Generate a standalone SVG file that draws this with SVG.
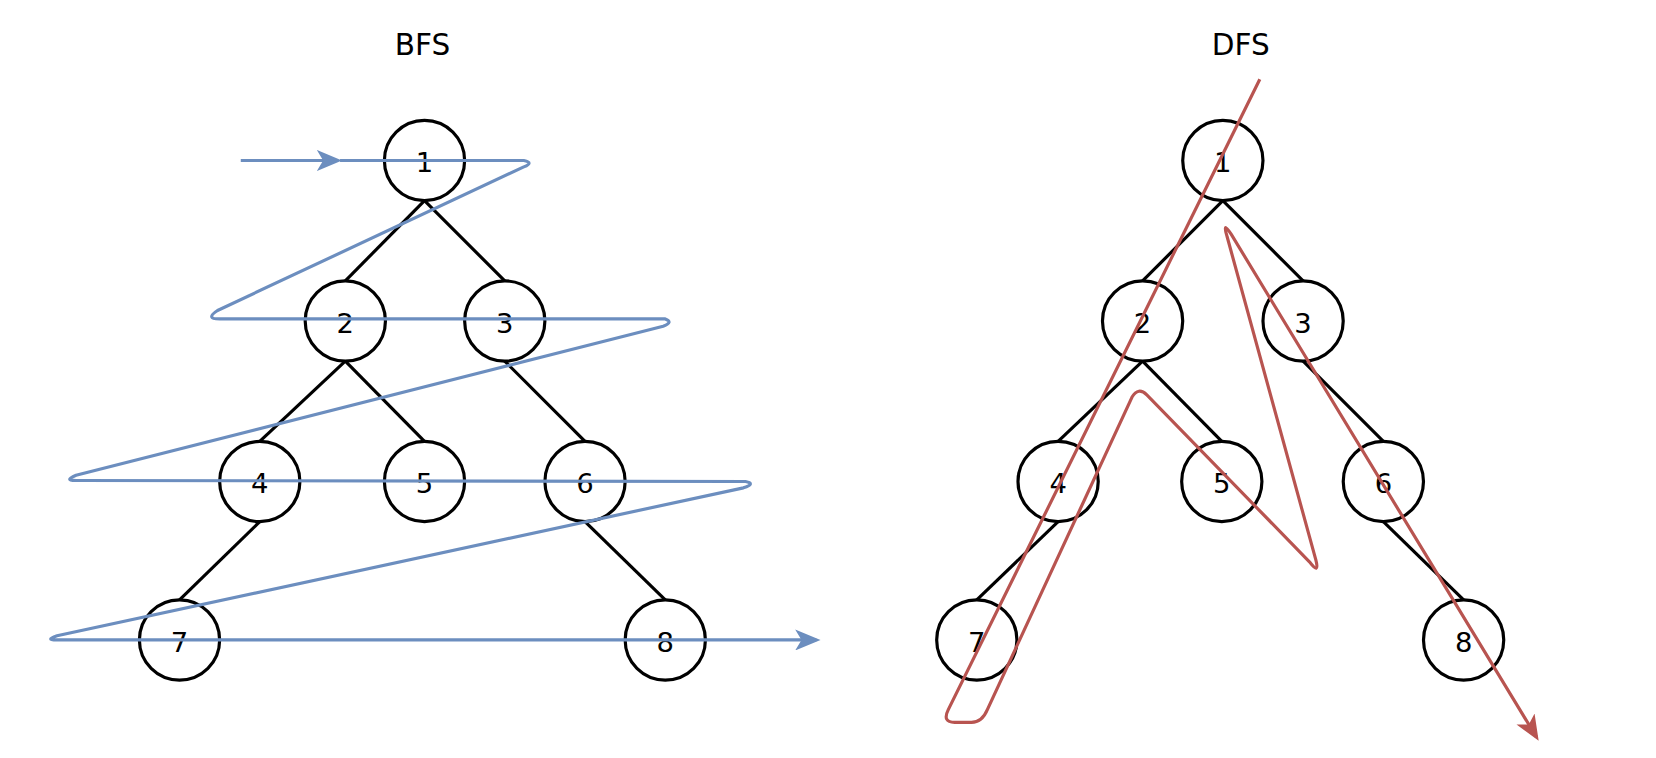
<svg xmlns="http://www.w3.org/2000/svg" width="1656" height="758" viewBox="0 0 1656 758">
<style>
.n circle{fill:#fff;stroke:#000;stroke-width:3}
.n text{font-family:"DejaVu Sans",sans-serif;font-size:26px;text-anchor:middle;dominant-baseline:central}
.e line{stroke:#000;stroke-width:3}
.t{font-family:"DejaVu Sans",sans-serif;font-size:28px;text-anchor:middle}
.b{fill:none;stroke:#6c8ebf;stroke-width:3;stroke-linejoin:round}
.r{fill:none;stroke:#b85450;stroke-width:3;stroke-linejoin:round}
</style>
<defs>
<marker id="ab" refX="20" refY="10" markerWidth="24" markerHeight="20" orient="auto" markerUnits="userSpaceOnUse"><path d="M0,0 L24,10 L0,20 L6,10z" fill="#6c8ebf"/></marker>
<marker id="ar" refX="20" refY="10" markerWidth="24" markerHeight="20" orient="auto" markerUnits="userSpaceOnUse"><path d="M0,0 L24,10 L0,20 L6,10z" fill="#b85450"/></marker>
</defs>
<rect width="1656" height="758" fill="#fff"/>
<g transform="scale(1.056)">
<text class="t" x="400" y="52">BFS</text>
<text class="t" x="1175" y="52">DFS</text>
<g class="e" id="edges">
<line x1="402" y1="190" x2="327" y2="266"/><line x1="402" y1="190" x2="478" y2="266"/>
<line x1="327" y1="342" x2="246" y2="418"/><line x1="327" y1="342" x2="402" y2="418"/>
<line x1="478" y1="342" x2="554" y2="418"/><line x1="246" y1="494" x2="170" y2="568"/>
<line x1="554" y1="494" x2="630" y2="568"/>
<line x1="1158" y1="190" x2="1082" y2="266"/><line x1="1158" y1="190" x2="1234" y2="266"/>
<line x1="1082" y1="342" x2="1002" y2="418"/><line x1="1082" y1="342" x2="1157" y2="418"/>
<line x1="1234" y1="342" x2="1310" y2="418"/><line x1="1002" y1="494" x2="925" y2="568"/>
<line x1="1310" y1="494" x2="1386" y2="568"/>
</g>
<g class="n" id="b1"><circle cx="402" cy="152" r="38"/><text x="402" y="154">1</text></g>
<g class="n" id="b2"><circle cx="327" cy="304" r="38"/><text x="327" y="306">2</text></g>
<g class="n" id="b3"><circle cx="478" cy="304" r="38"/><text x="478" y="306">3</text></g>
<g class="n" id="b4"><circle cx="246" cy="456" r="38"/><text x="246" y="458">4</text></g>
<g class="n" id="b5"><circle cx="402" cy="456" r="38"/><text x="402" y="458">5</text></g>
<g class="n" id="b6"><circle cx="554" cy="456" r="38"/><text x="554" y="458">6</text></g>
<g class="n" id="b7"><circle cx="170" cy="606" r="38"/><text x="170" y="608">7</text></g>
<g class="n" id="b8"><circle cx="630" cy="606" r="38"/><text x="630" y="608">8</text></g>
<g class="n" id="d1"><circle cx="1158" cy="152" r="38"/><text x="1158" y="154">1</text></g>
<g class="n" id="d2"><circle cx="1082" cy="304" r="38"/><text x="1082" y="306">2</text></g>
<g class="n" id="d3"><circle cx="1234" cy="304" r="38"/><text x="1234" y="306">3</text></g>
<g class="n" id="d4"><circle cx="1002" cy="456" r="38"/><text x="1002" y="458">4</text></g>
<g class="n" id="d5"><circle cx="1157" cy="456" r="38"/><text x="1157" y="458">5</text></g>
<g class="n" id="d6"><circle cx="1310" cy="456" r="38"/><text x="1310" y="458">6</text></g>
<g class="n" id="d7"><circle cx="925" cy="606" r="38"/><text x="925" y="608">7</text></g>
<g class="n" id="d8"><circle cx="1386" cy="606" r="38"/><text x="1386" y="608">8</text></g>
<g id="paths">
<path class="b" d="M228,152 L320,152" marker-end="url(#ab)"/>
<path class="b" d="M322,152 L496,152 Q506,154 496,158 L206,294 Q194,302 208,302 L630,302 Q638,305 628,309 L72,450 Q60,455 72,455 L706,456 Q716,458 704,462 L54,602 Q42,606 54,606 L773,606" marker-end="url(#ab)"/>
<path class="r" d="M1193,75 L898,672 Q892,684 904,684 L920,684 Q930,684 935,672 L1072,376 Q1078,366 1086,374 L1240,532 Q1250,545 1246,530 L1162,224 Q1157,208 1166,222 L1455,698" marker-end="url(#ar)"/>
</g>
</g>
</svg>
